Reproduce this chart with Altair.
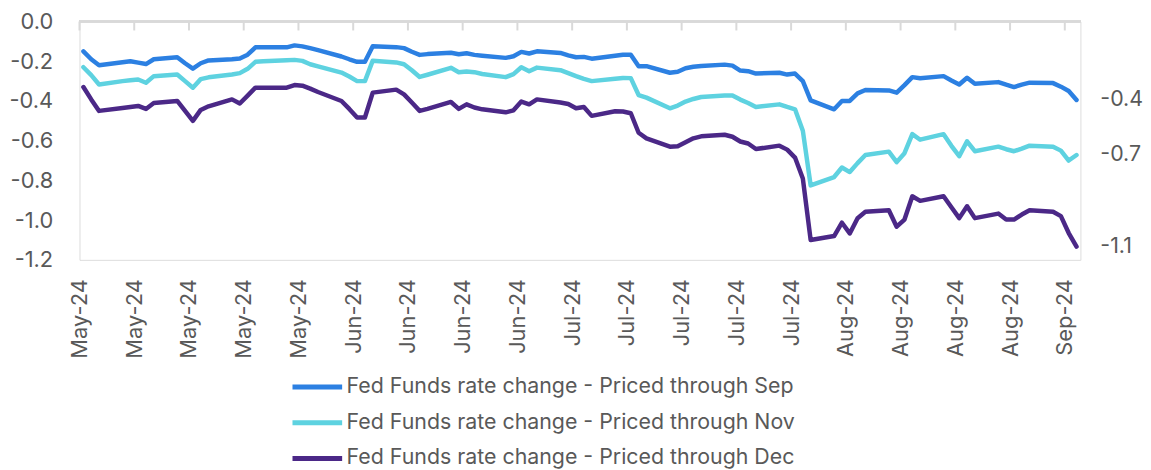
import altair as alt
import pandas as pd

# ---- data -------------------------------------------------------------
business_days = pd.bdate_range("2024-05-01", "2024-09-05")  # 92 trading days

sep_vals = [
    # May
    -0.15, -0.19, -0.22, -0.205, -0.20, -0.207, -0.214, -0.19, -0.18, -0.21, -0.237, -0.21,
    -0.196, -0.19, -0.186, -0.167, -0.13, -0.13, -0.13, -0.12, -0.125, -0.134, -0.144,
    # Jun
    -0.176, -0.19, -0.203, -0.203, -0.125, -0.129, -0.134, -0.152, -0.168, -0.164,
    -0.157, -0.165, -0.16, -0.168, -0.172, -0.183, -0.175, -0.153, -0.161, -0.15,
    # Jul
    -0.158, -0.17, -0.18, -0.178, -0.187, -0.172, -0.167, -0.167, -0.225, -0.225,
    -0.258, -0.253, -0.235, -0.228, -0.224, -0.217, -0.222, -0.247, -0.25, -0.262,
    -0.258, -0.267, -0.262,
    # Aug
    -0.30, -0.397, -0.442, -0.40, -0.40, -0.362, -0.345, -0.347, -0.358, -0.32, -0.28,
    -0.286, -0.275, -0.297, -0.317, -0.283, -0.313, -0.305, -0.318, -0.33, -0.318, -0.308,
    # Sep
    -0.31, -0.328, -0.35, -0.395,
]

nov_vals = [
    # May
    -0.23, -0.27, -0.317, -0.30, -0.296, -0.292, -0.308, -0.275, -0.267, -0.30, -0.333, -0.29,
    -0.281, -0.267, -0.26, -0.238, -0.203, -0.20, -0.195, -0.193, -0.198, -0.215, -0.226,
    # Jun
    -0.257, -0.277, -0.30, -0.30, -0.197, -0.206, -0.215, -0.245, -0.279, -0.268,
    -0.233, -0.255, -0.252, -0.255, -0.264, -0.28, -0.265, -0.23, -0.25, -0.232,
    # Jul
    -0.245, -0.26, -0.275, -0.289, -0.30, -0.288, -0.284, -0.285, -0.37, -0.383,
    -0.437, -0.423, -0.403, -0.39, -0.38, -0.372, -0.372, -0.393, -0.41, -0.43,
    -0.417, -0.43, -0.442,
    # Aug
    -0.55, -0.825, -0.783, -0.735, -0.758, -0.713, -0.672, -0.655, -0.708, -0.663, -0.567,
    -0.595, -0.567, -0.626, -0.678, -0.603, -0.653, -0.63, -0.643, -0.653, -0.64, -0.625,
    # Sep
    -0.63, -0.65, -0.70, -0.672,
]

dec_vals = [
    # May
    -0.33, -0.392, -0.45, -0.435, -0.43, -0.425, -0.44, -0.41, -0.40, -0.45, -0.50, -0.445,
    -0.427, -0.392, -0.413, -0.373, -0.333, -0.333, -0.333, -0.32, -0.323, -0.338, -0.355,
    # Jun
    -0.40, -0.44, -0.483, -0.483, -0.358, -0.343, -0.367, -0.408, -0.45, -0.44,
    -0.405, -0.44, -0.417, -0.433, -0.442, -0.457, -0.447, -0.403, -0.417, -0.392,
    # Jul
    -0.408, -0.415, -0.437, -0.43, -0.475, -0.452, -0.453, -0.462, -0.56, -0.588,
    -0.63, -0.628, -0.608, -0.588, -0.578, -0.57, -0.58, -0.604, -0.614, -0.642,
    -0.625, -0.645, -0.685,
    # Aug
    -0.79, -1.10, -1.08, -1.013, -1.067, -0.99, -0.958, -0.95, -1.033, -0.997, -0.88,
    -0.903, -0.88, -0.935, -0.99, -0.93, -0.99, -0.967, -0.997, -0.997, -0.972, -0.95,
    # Sep
    -0.958, -0.98, -1.065, -1.133,
]

series_names = [
    "Fed Funds rate change - Priced through Sep",
    "Fed Funds rate change - Priced through Nov",
    "Fed Funds rate change - Priced through Dec",
]
series_colors = ["#2C80E2", "#5ED2E0", "#4B2887"]

tick_dates = [
    "2024-05-01", "2024-05-08", "2024-05-15", "2024-05-22", "2024-05-29",
    "2024-06-05", "2024-06-12", "2024-06-19", "2024-06-26",
    "2024-07-03", "2024-07-10", "2024-07-17", "2024-07-24", "2024-07-31",
    "2024-08-07", "2024-08-14", "2024-08-21", "2024-08-28", "2024-09-04",
]
y_ticks = [0.0, -0.2, -0.4, -0.6, -0.8, -1.0, -1.2]

FONT = "Inter"
TXT = "#595959"
GRID = "#D9D9D9"

# ---- tables -----------------------------------------------------------
# each trading day sits in the middle of its calendar-day slot
stamps = [(d + pd.Timedelta(hours=12)).strftime("%Y-%m-%dT%H:%M:%SZ") for d in business_days]
rows = []
for name, vals in zip(series_names, [sep_vals, nov_vals, dec_vals]):
    for s, v in zip(stamps, vals):
        rows.append({"date": s, "value": v, "series": name})
df = pd.DataFrame(rows)

last = df.groupby("series", sort=False).tail(1).copy()
last["label"] = last["value"].map(lambda v: f"{v:.1f}")

ticks_df = pd.DataFrame({"date": [t + "T00:00:00Z" for t in tick_dates]})


def dt(s):
    y, m, d = (int(p) for p in s.split("-"))
    return alt.DateTime(year=y, month=m, date=d, utc=True)


x_scale = alt.Scale(type="utc", domain=[dt("2024-05-01"), dt("2024-09-06")])
y_scale = alt.Scale(domain=[-1.2, 0], nice=False, zero=False)

x_axis = alt.Axis(
    values=[dt(t) for t in tick_dates],
    labelExpr="utcFormat(datum.value, '%b-%y')",
    labelAngle=-90,
    labelPadding=19,
    labelFontSize=22,
    labelColor=TXT,
    labelFont=FONT,
    domain=False,
    ticks=False,
    grid=False,
    title=None,
    labelOverlap=False,
)
y_axis = alt.Axis(
    values=y_ticks,
    labelExpr="replace(format(datum.value, '.1f'), '\u2212', '-')",
    labelPadding=27,
    labelFontSize=22,
    labelColor=TXT,
    labelFont=FONT,
    labelOverlap=False,
    domain=False,
    ticks=False,
    grid=False,
    title=None,
)

x_enc = alt.X("date:T", scale=x_scale, axis=x_axis)
y_enc = alt.Y("value:Q", scale=y_scale, axis=y_axis)

lines = alt.Chart(df).mark_line(
    strokeWidth=4.5, strokeJoin="round", strokeCap="round"
).encode(
    x=x_enc,
    y=y_enc,
    color=alt.Color(
        "series:N",
        sort=series_names,
        scale=alt.Scale(domain=series_names, range=series_colors),
        legend=alt.Legend(
            title=None,
            orient="none",
            legendX=212,
            legendY=351,
            direction="vertical",
            symbolType="stroke",
            symbolSize=2500,
            symbolStrokeWidth=5,
            labelFontSize=21.5,
            labelColor=TXT,
            labelFont=FONT,
            labelLimit=700,
            labelOffset=2,
            clipHeight=34,
            rowPadding=2,
            padding=0,
        ),
    ),
)

# x axis line drawn at value 0 (top of plot) with downward tick marks
axis_line = alt.Chart(ticks_df).mark_rule(color=GRID, strokeWidth=2).encode(
    y=alt.value(0)
)
tick_marks = alt.Chart(ticks_df).mark_rule(color=GRID, strokeWidth=2).encode(
    x=x_enc,
    y=alt.value(0),
    y2=alt.value(9),
)

end_labels = alt.Chart(last).mark_text(
    align="left", baseline="middle", dx=24, fontSize=21.5, color=TXT, font=FONT
).encode(
    x=x_enc,
    y=y_enc,
    text="label:N",
)

chart = (
    alt.layer(lines, axis_line, tick_marks, end_labels)
    .properties(
        width=1008,
        height=240,
        autosize=alt.AutoSizeParams(type="none"),
        padding={"left": 72, "top": 12, "right": 63, "bottom": 210},
    )
    .configure_view(stroke=None)
    .configure(font=FONT)
)

chart.save("out.html", embed_options={"renderer": "svg", "actions": False})
